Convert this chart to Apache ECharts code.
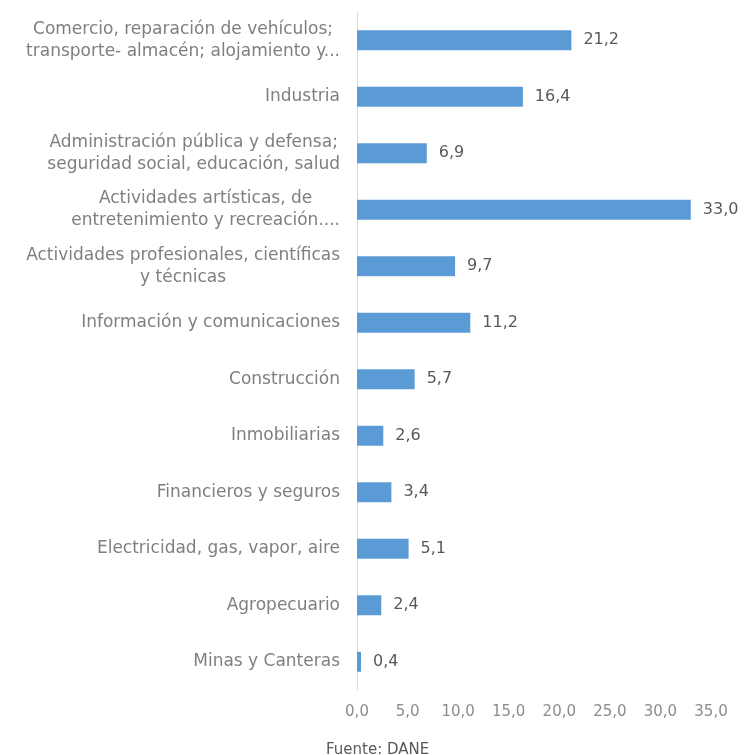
<!DOCTYPE html>
<html>
<head>
<meta charset="utf-8">
<script src="https://cdn.jsdelivr.net/npm/echarts@6/dist/echarts.min.js"></script>
<style>
  html, body { margin: 0; padding: 0; background: #fff; }
  #main { width: 747px; height: 755px; }
</style>
</head>
<body>
<div id="main"></div>
<script>
var sectores = [
    'Comercio, reparación de vehículos;\ntransporte- almacén; alojamiento y...',
    'Industria',
    'Administración pública y defensa;\nseguridad social, educación, salud',
    'Actividades artísticas, de\nentretenimiento y recreación....',
    'Actividades profesionales, científicas\ny técnicas',
    'Información y comunicaciones',
    'Construcción',
    'Inmobiliarias',
    'Financieros y seguros',
    'Electricidad, gas, vapor, aire',
    'Agropecuario',
    'Minas y Canteras'
];
var valores = [21.2, 16.4, 6.9, 33.0, 9.7, 11.2, 5.7, 2.6, 3.4, 5.1, 2.4, 0.4];
var fuente = 'Fuente: DANE';

var fontFam = '"DejaVu Sans", sans-serif';
var coma = function (v) { return v.toFixed(1).replace('.', ','); };

var myChart = echarts.init(document.getElementById('main'));
var option = {
    backgroundColor: '#fff',
    animation: false,
    textStyle: { fontFamily: fontFam },
    title: {
        text: fuente,
        left: 321,
        top: 738,
        textStyle: {
            color: '#595959',
            fontSize: 15,
            fontWeight: 'normal',
            fontFamily: fontFam
        }
    },
    grid: {
        left: 357,
        right: 36,
        top: 12,
        bottom: 65,
        containLabel: false
    },
    xAxis: {
        type: 'value',
        min: 0,
        max: 35,
        interval: 5,
        axisLine: { show: false },
        axisTick: { show: false },
        splitLine: { show: false },
        axisLabel: {
            margin: 15,
            color: '#8c8c8c',
            fontSize: 15,
            fontFamily: fontFam,
            formatter: function (v) { return coma(v); }
        }
    },
    yAxis: {
        type: 'category',
        inverse: true,
        data: sectores,
        axisLine: { show: true, lineStyle: { color: '#d9d9d9', width: 1 } },
        axisTick: { show: false },
        axisLabel: {
            margin: 17,
            color: '#7f7f7f',
            fontSize: 17,
            lineHeight: 22,
            fontFamily: fontFam,
            formatter: function (v) {
                return v.split('\n').map(function (l) { return '{c|' + l + '}'; }).join('\n');
            },
            rich: {
                c: {
                    align: 'center',
                    color: '#7f7f7f',
                    fontSize: 17,
                    lineHeight: 22,
                    fontFamily: fontFam
                }
            }
        }
    },
    series: [
        {
            type: 'bar',
            data: valores,
            barWidth: 20,
            itemStyle: { color: '#5b9bd5' },
            label: {
                show: true,
                position: 'right',
                distance: 12,
                color: '#595959',
                fontSize: 16,
                fontFamily: fontFam,
                formatter: function (p) { return coma(p.value); }
            }
        }
    ]
};
myChart.setOption(option);
window.addEventListener('resize', function () {
    myChart.resize();
});
</script>
</body>
</html>
